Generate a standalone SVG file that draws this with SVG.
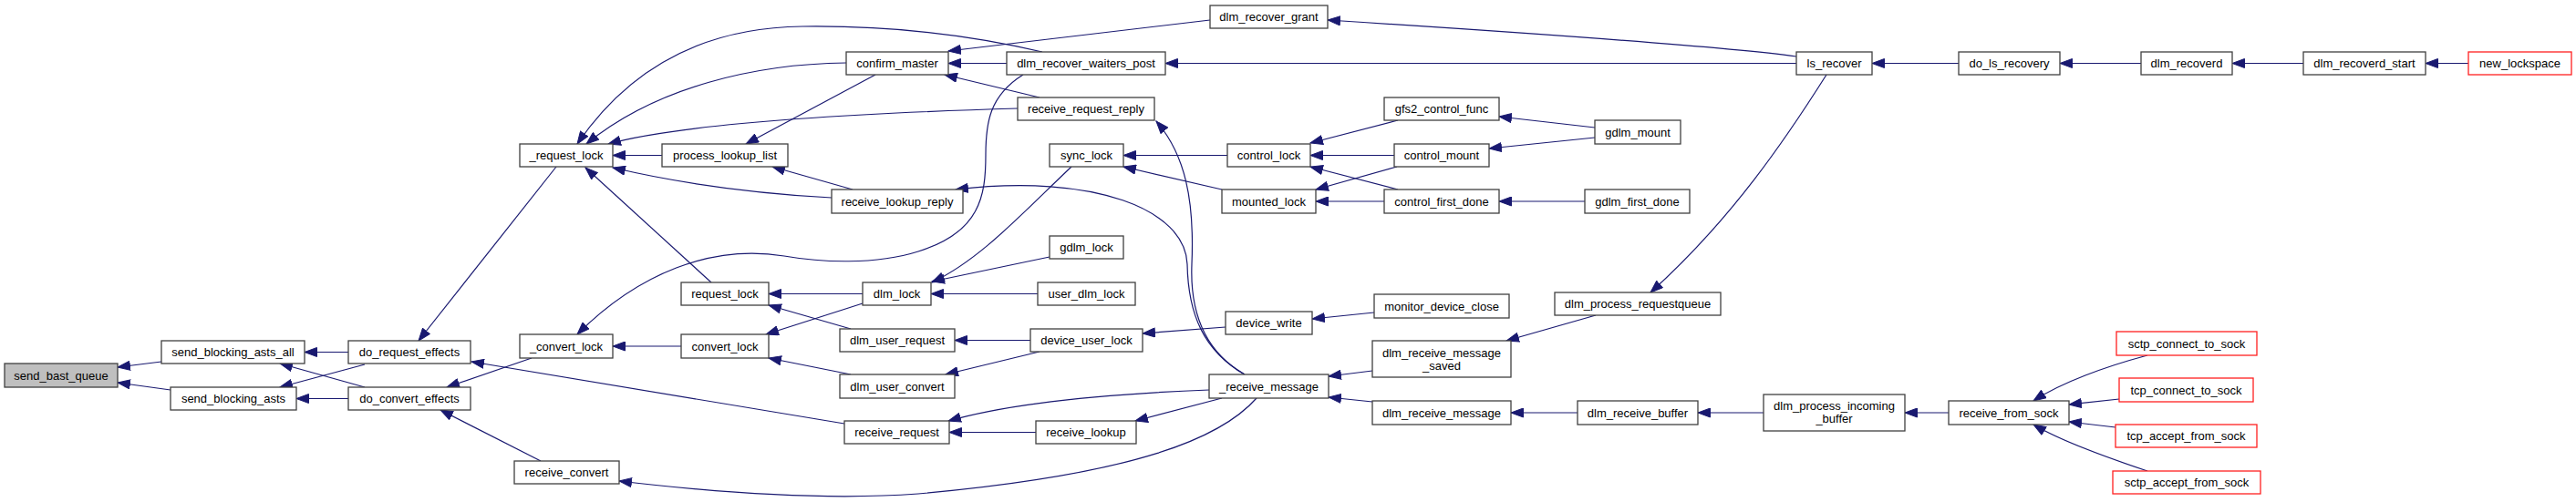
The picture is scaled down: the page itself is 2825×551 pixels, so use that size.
<svg xmlns="http://www.w3.org/2000/svg" width="2825" height="551" viewBox="0 0 2825 551">
<style>
.node rect{fill:#fff;stroke:#404040;stroke-width:1.3}
.node.root rect{fill:#bfbfbf}
.node.ext rect{stroke:#ff2020}
text{font-family:"Liberation Sans",Arial,Helvetica,sans-serif;font-size:13px;text-anchor:middle;fill:#000}
.edges path{fill:none;stroke:#191970;stroke-width:1.2;marker-end:url(#arrow)}
</style>
<defs>
<marker id="arrow" markerUnits="userSpaceOnUse" markerWidth="15" markerHeight="11" viewBox="0 0 15 11" refX="14" refY="5.5" orient="auto">
<path d="M0.5,0.5 L14,5.5 L0.5,10.5 z" fill="#191970" stroke="#191970" stroke-width="1"/>
</marker>
</defs>
<rect width="2825" height="551" fill="#fff"/>
<g class="edges">
<path d="M177,397 L129,403"/>
<path d="M187,428 L129,420"/>
<path d="M382,386.5 L334,386.5"/>
<path d="M382,437.5 L325,437.5"/>
<path d="M400,400 L307,425"/>
<path d="M400,425 L307,399"/>
<path d="M610,183 L459,374"/>
<path d="M583,393 L490,425"/>
<path d="M593,506 L483,450"/>
<path d="M926,465 L517,397"/>
<path d="M1143,57 C1050,35 960,28 880,29 C790,30 700,60 633,158"/>
<path d="M928,69 C830,70 720,95 643,158"/>
<path d="M1116,119 C950,124 750,135 667,158"/>
<path d="M726,170.5 L672,170.5"/>
<path d="M912,217 C820,212 740,200 672,184"/>
<path d="M780,310 L642,184"/>
<path d="M960,82 L818,158"/>
<path d="M935,208 L847,183"/>
<path d="M1104,69.5 L1040,69.5"/>
<path d="M1327,22 L1040,56"/>
<path d="M1140,107 L1036,82"/>
<path d="M1970,62 C1920,55 1800,44 1456,22"/>
<path d="M1970,69.5 L1278,69.5"/>
<path d="M2003,82 C1960,150 1900,240 1810,321"/>
<path d="M2148,69.5 L2053,69.5"/>
<path d="M2348,69.5 L2259,69.5"/>
<path d="M2526,69.5 L2448,69.5"/>
<path d="M2707,69.5 L2660,69.5"/>
<path d="M1365,411 C1320,385 1305,340 1307,290 C1310,220 1300,170 1268,133"/>
<path d="M1365,411 C1320,385 1303,345 1302,290 C1300,230 1200,190 1048,208"/>
<path d="M1346,170.5 L1232,170.5"/>
<path d="M1340,208 L1232,183"/>
<path d="M1175,183 C1120,235 1075,285 1022,310"/>
<path d="M1151,282 L1022,309"/>
<path d="M1138,322.5 L1021,322.5"/>
<path d="M946,322.5 L843,322.5"/>
<path d="M946,333 L840,367"/>
<path d="M933,361 L843,335"/>
<path d="M933,411 L843,393"/>
<path d="M747,380 L672,380"/>
<path d="M1122,82 C1085,105 1081,135 1081,170 C1081,215 1075,255 1007,276 C960,291 900,288 860,281 C780,268 700,300 633,367"/>
<path d="M1130,373.5 L1047,373.5"/>
<path d="M1140,386 L1037,411"/>
<path d="M1344,359 L1253,366"/>
<path d="M1507,343 L1439,350"/>
<path d="M1326,428 C1220,432 1110,442 1040,462"/>
<path d="M1136,474.5 L1041,474.5"/>
<path d="M1340,437 L1245,462"/>
<path d="M1378,437 C1340,480 1250,520 1007,542 C900,550 780,540 679,528"/>
<path d="M1505,407 L1457,413"/>
<path d="M1505,441 L1457,436"/>
<path d="M1750,346 L1652,374"/>
<path d="M1730,453 L1657,453"/>
<path d="M1934,453 L1862,453"/>
<path d="M2137,453 L2089,453"/>
<path d="M2355,390 C2310,402 2260,420 2230,440"/>
<path d="M2324,438 L2269,444"/>
<path d="M2320,469 L2269,463"/>
<path d="M2355,517 C2310,502 2260,484 2230,466"/>
<path d="M1533,132 L1437,157"/>
<path d="M1529,170.5 L1437,170.5"/>
<path d="M1533,208 L1437,183"/>
<path d="M1532,183 L1443,208"/>
<path d="M1518,221 L1443,221"/>
<path d="M1749,140 L1644,128"/>
<path d="M1749,151 L1633,163"/>
<path d="M1738,221 L1644,221"/>
</g>
<g id="send_bast_queue" class="node root"><rect x="5" y="399" width="124" height="26"/><text x="67" y="416.5">send_bast_queue</text></g>
<g id="send_blocking_asts_all" class="node"><rect x="177" y="374" width="157" height="25"/><text x="255.5" y="391">send_blocking_asts_all</text></g>
<g id="send_blocking_asts" class="node"><rect x="187" y="425" width="138" height="25"/><text x="256" y="442">send_blocking_asts</text></g>
<g id="do_request_effects" class="node"><rect x="382" y="374" width="134" height="25"/><text x="449" y="391">do_request_effects</text></g>
<g id="do_convert_effects" class="node"><rect x="382" y="425" width="134" height="25"/><text x="449" y="442">do_convert_effects</text></g>
<g id="_request_lock" class="node"><rect x="570" y="158" width="102" height="25"/><text x="621" y="175">_request_lock</text></g>
<g id="process_lookup_list" class="node"><rect x="726" y="158" width="138" height="25"/><text x="795" y="175">process_lookup_list</text></g>
<g id="confirm_master" class="node"><rect x="928" y="57" width="112" height="25"/><text x="984" y="74">confirm_master</text></g>
<g id="receive_request_reply" class="node"><rect x="1116" y="107" width="150" height="25"/><text x="1191" y="124">receive_request_reply</text></g>
<g id="receive_lookup_reply" class="node"><rect x="912" y="208" width="144" height="26"/><text x="984" y="225.5">receive_lookup_reply</text></g>
<g id="dlm_recover_waiters_post" class="node"><rect x="1104" y="57" width="174" height="25"/><text x="1191" y="74">dlm_recover_waiters_post</text></g>
<g id="dlm_recover_grant" class="node"><rect x="1327" y="6" width="129" height="25"/><text x="1391.5" y="23">dlm_recover_grant</text></g>
<g id="sync_lock" class="node"><rect x="1151" y="158" width="81" height="25"/><text x="1191.5" y="175">sync_lock</text></g>
<g id="control_lock" class="node"><rect x="1346" y="158" width="91" height="25"/><text x="1391.5" y="175">control_lock</text></g>
<g id="mounted_lock" class="node"><rect x="1340" y="208" width="103" height="26"/><text x="1391.5" y="225.5">mounted_lock</text></g>
<g id="gdlm_lock" class="node"><rect x="1151" y="259" width="81" height="25"/><text x="1191.5" y="276">gdlm_lock</text></g>
<g id="gfs2_control_func" class="node"><rect x="1518" y="107" width="126" height="25"/><text x="1581" y="124">gfs2_control_func</text></g>
<g id="control_mount" class="node"><rect x="1529" y="158" width="104" height="25"/><text x="1581" y="175">control_mount</text></g>
<g id="control_first_done" class="node"><rect x="1518" y="208" width="126" height="26"/><text x="1581" y="225.5">control_first_done</text></g>
<g id="gdlm_mount" class="node"><rect x="1749" y="132" width="94" height="26"/><text x="1796" y="149.5">gdlm_mount</text></g>
<g id="gdlm_first_done" class="node"><rect x="1738" y="208" width="115" height="26"/><text x="1795.5" y="225.5">gdlm_first_done</text></g>
<g id="ls_recover" class="node"><rect x="1970" y="57" width="83" height="25"/><text x="2011.5" y="74">ls_recover</text></g>
<g id="do_ls_recovery" class="node"><rect x="2148" y="57" width="111" height="25"/><text x="2203.5" y="74">do_ls_recovery</text></g>
<g id="dlm_recoverd" class="node"><rect x="2348" y="57" width="100" height="25"/><text x="2398" y="74">dlm_recoverd</text></g>
<g id="dlm_recoverd_start" class="node"><rect x="2526" y="57" width="134" height="25"/><text x="2593" y="74">dlm_recoverd_start</text></g>
<g id="new_lockspace" class="node ext"><rect x="2707" y="57" width="113" height="25"/><text x="2763.5" y="74">new_lockspace</text></g>
<g id="request_lock" class="node"><rect x="747" y="310" width="96" height="25"/><text x="795" y="327">request_lock</text></g>
<g id="_convert_lock" class="node"><rect x="570" y="367" width="102" height="26"/><text x="621" y="384.5">_convert_lock</text></g>
<g id="convert_lock" class="node"><rect x="747" y="367" width="96" height="26"/><text x="795" y="384.5">convert_lock</text></g>
<g id="dlm_lock" class="node"><rect x="946" y="310" width="75" height="25"/><text x="983.5" y="327">dlm_lock</text></g>
<g id="user_dlm_lock" class="node"><rect x="1138" y="310" width="107" height="25"/><text x="1191.5" y="327">user_dlm_lock</text></g>
<g id="dlm_user_request" class="node"><rect x="921" y="361" width="126" height="25"/><text x="984" y="378">dlm_user_request</text></g>
<g id="device_user_lock" class="node"><rect x="1130" y="361" width="123" height="25"/><text x="1191.5" y="378">device_user_lock</text></g>
<g id="dlm_user_convert" class="node"><rect x="921" y="411" width="126" height="26"/><text x="984" y="428.5">dlm_user_convert</text></g>
<g id="receive_request" class="node"><rect x="926" y="462" width="115" height="25"/><text x="983.5" y="479">receive_request</text></g>
<g id="receive_lookup" class="node"><rect x="1136" y="462" width="110" height="25"/><text x="1191" y="479">receive_lookup</text></g>
<g id="_receive_message" class="node"><rect x="1326" y="411" width="131" height="26"/><text x="1391.5" y="428.5">_receive_message</text></g>
<g id="device_write" class="node"><rect x="1344" y="342" width="95" height="25"/><text x="1391.5" y="359">device_write</text></g>
<g id="receive_convert" class="node"><rect x="564" y="506" width="115" height="25"/><text x="621.5" y="523">receive_convert</text></g>
<g id="monitor_device_close" class="node"><rect x="1507" y="323" width="148" height="26"/><text x="1581" y="340.5">monitor_device_close</text></g>
<g id="dlm_receive_message_saved" class="node"><rect x="1505" y="374" width="152" height="40"/><text x="1581" y="391.5">dlm_receive_message</text><text x="1581" y="405.5">_saved</text></g>
<g id="dlm_receive_message" class="node"><rect x="1505" y="440" width="152" height="26"/><text x="1581" y="457.5">dlm_receive_message</text></g>
<g id="dlm_process_requestqueue" class="node"><rect x="1705" y="321" width="182" height="25"/><text x="1796" y="338">dlm_process_requestqueue</text></g>
<g id="dlm_receive_buffer" class="node"><rect x="1730" y="440" width="132" height="26"/><text x="1796" y="457.5">dlm_receive_buffer</text></g>
<g id="dlm_process_incoming_buffer" class="node"><rect x="1934" y="433" width="155" height="40"/><text x="2011.5" y="449.5">dlm_process_incoming</text><text x="2011.5" y="463.5">_buffer</text></g>
<g id="receive_from_sock" class="node"><rect x="2137" y="440" width="132" height="26"/><text x="2203" y="457.5">receive_from_sock</text></g>
<g id="sctp_connect_to_sock" class="node ext"><rect x="2321" y="364" width="154" height="26"/><text x="2398" y="381.5">sctp_connect_to_sock</text></g>
<g id="tcp_connect_to_sock" class="node ext"><rect x="2324" y="415" width="147" height="26"/><text x="2397.5" y="432.5">tcp_connect_to_sock</text></g>
<g id="tcp_accept_from_sock" class="node ext"><rect x="2320" y="466" width="155" height="25"/><text x="2397.5" y="483">tcp_accept_from_sock</text></g>
<g id="sctp_accept_from_sock" class="node ext"><rect x="2317" y="517" width="162" height="25"/><text x="2398" y="534">sctp_accept_from_sock</text></g>
</svg>
